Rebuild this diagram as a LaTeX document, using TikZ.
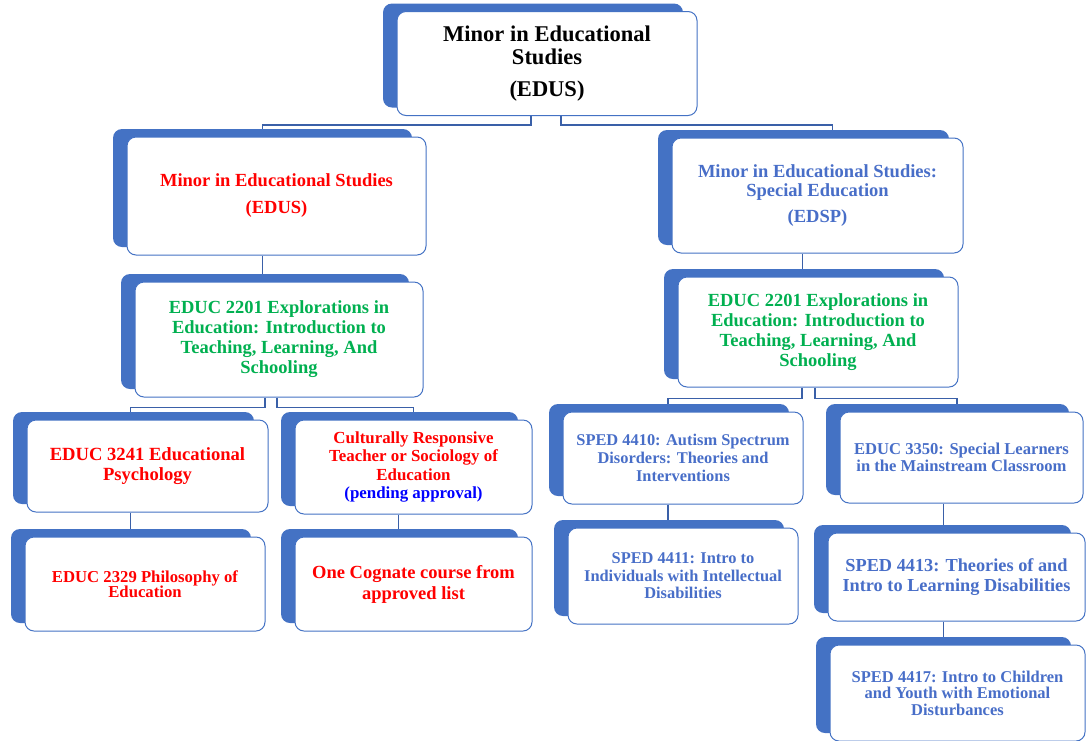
\documentclass[tikz,border=0pt]{standalone}
\usepackage{fontspec}
\setmainfont{Liberation Serif}
\usepackage{tikz}
\usetikzlibrary{shadows,backgrounds}

\tikzset{
  box/.style={draw=boxblue, line width=1pt, fill=white, rounded corners=9pt,
    inner sep=0pt, align=center,
    general shadow={fill=boxblue, shadow xshift=-14pt, shadow yshift=8pt}},
  fs/.style 2 args={font=\bfseries\fontsize{#1}{#2}\selectfont},
  conn/.style={draw=linkblue, line width=1.4pt},
}

\begin{document}
\begin{tikzpicture}[x=1pt,y=-1pt]
\definecolor{boxblue}{RGB}{68,114,196}
\definecolor{linkblue}{RGB}{58,96,168}
\definecolor{edusred}{RGB}{255,0,0}
\definecolor{introgreen}{RGB}{0,176,80}
\definecolor{edsptext}{RGB}{72,110,200}
\definecolor{pendblue}{RGB}{0,0,255}
\useasboundingbox (0,0) rectangle (1086,740);

% top
\node[box, fs={22.5}{23}, minimum width=300pt, minimum height=104pt] (top) at (547,63.5)
  {Minor in Educational\\Studies\\[9pt](EDUS)};

% left branch
\node[box, fs={18.5}{20}, minimum width=299pt, minimum height=118pt, text=edusred] (edus) at (276.5,196)
  {Minor in Educational Studies\\[7pt](EDUS)};
\node[box, fs={18.5}{20}, minimum width=288pt, minimum height=115pt, text=introgreen] (introL) at (279,339.5)
  {EDUC 2201 Explorations in\\Education: Introduction to\\Teaching, Learning, And\\Schooling};
\node[box, fs={18.6}{20}, minimum width=241pt, minimum height=92pt, text=edusred] (psych) at (147.5,466)
  {EDUC 3241 Educational\\Psychology};
\node[box, fs={16.9}{18.3}, minimum width=237pt, minimum height=94pt, text=edusred] (cult) at (413.5,467)
  {Culturally Responsive\\Teacher or Sociology of\\Education\\\textcolor{pendblue}{(pending approval)}};
\node[box, fs={16.7}{15.5}, minimum width=240pt, minimum height=94pt, text=edusred] (phil) at (145,584)
  {EDUC 2329 Philosophy of\\Education};
\node[box, fs={18.5}{21}, minimum width=237pt, minimum height=94pt, text=edusred] (cog) at (413.5,584)
  {One Cognate course from\\approved list};

% right branch
\node[box, fs={18.5}{19.5}, minimum width=291pt, minimum height=115pt, text=edsptext] (edsp) at (817.5,195.5)
  {Minor in Educational Studies:\\Special Education\\[6.5pt](EDSP)};
\node[box, fs={18.5}{20}, minimum width=280pt, minimum height=110pt, text=introgreen] (introR) at (818,332)
  {EDUC 2201 Explorations in\\Education: Introduction to\\Teaching, Learning, And\\Schooling};
\node[box, fs={16.4}{18}, minimum width=240pt, minimum height=92pt, text=edsptext] (autism) at (683,458)
  {SPED 4410: Autism Spectrum\\Disorders: Theories and\\Interventions};
\node[box, fs={16.6}{17}, minimum width=243pt, minimum height=91pt, text=edsptext] (special) at (961.5,457.5)
  {EDUC 3350: Special Learners\\in the Mainstream Classroom};
\node[box, fs={16.4}{17.4}, minimum width=230pt, minimum height=96pt, text=edsptext] (intel) at (683,576)
  {SPED 4411: Intro to\\Individuals with Intellectual\\Disabilities};
\node[box, fs={18.3}{20.5}, minimum width=257pt, minimum height=88pt, text=edsptext] (learn) at (956.5,577)
  {SPED 4413: Theories of and\\Intro to Learning Disabilities};
\node[box, fs={16.5}{16.5}, minimum width=255pt, minimum height=96pt, text=edsptext] (emot) at (957.5,693)
  {SPED 4417: Intro to Children\\and Youth with Emotional\\Disturbances};

\begin{scope}[on background layer]
\draw[conn] ([xshift=-16pt]top.south) -- ++(0,9) -| ([xshift=-14pt]edus.north);
\draw[conn] ([xshift=14pt]top.south) -- ++(0,9) -| ([xshift=15pt]edsp.north);
\draw[conn] ([xshift=-14pt]edus.south) -- ([xshift=-14pt]edus.south |- introL.north);
\draw[conn] ([xshift=-15pt]edsp.south) -- ([xshift=-15pt]edsp.south |- introR.north);
\draw[conn] ([xshift=-14pt]introL.south) -- ++(0,10) -| ([xshift=-17pt]psych.north);
\draw[conn] ([xshift=-2pt]introL.south) -- ++(0,10) -| (cult.north);
\draw[conn] ([xshift=-16pt]introR.south) -- ++(0,11) -| ([xshift=-15pt]autism.north);
\draw[conn] ([xshift=-3pt]introR.south) -- ++(0,11) -| ([xshift=-4.5pt]special.north);
\draw[conn] ([xshift=-17pt]psych.south) -- ([xshift=-17pt]psych.south |- phil.north);
\draw[conn] ([xshift=-15pt]cult.south) -- ([xshift=-15pt]cult.south |- cog.north);
\draw[conn] ([xshift=-15pt]autism.south) -- ([xshift=-15pt]autism.south |- intel.north);
\draw[conn] ([xshift=-18pt]special.south) -- ([xshift=-18pt]special.south |- learn.north);
\draw[conn] ([xshift=-13pt]learn.south) -- ([xshift=-13pt]learn.south |- emot.north);
\end{scope}
\end{tikzpicture}
\end{document}
